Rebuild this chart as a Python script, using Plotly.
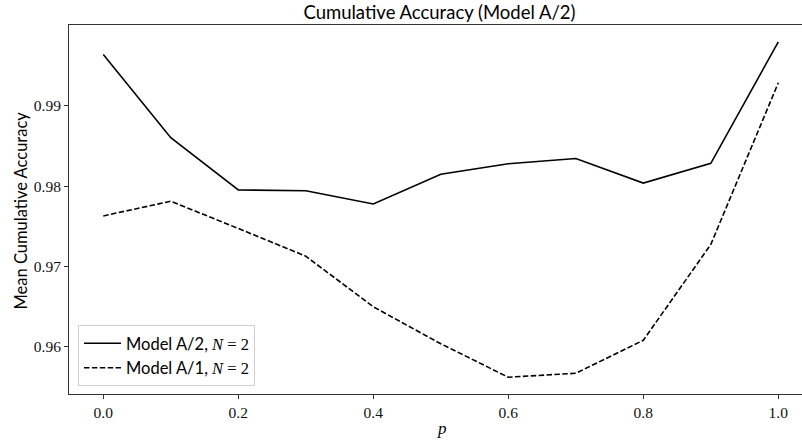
import plotly.graph_objects as go

p_values = [0.0, 0.1, 0.2, 0.3, 0.4, 0.5, 0.6, 0.7, 0.8, 0.9, 1.0]
acc_model_a2 = [0.99640, 0.98605, 0.97955, 0.97945, 0.97780, 0.98150, 0.98280, 0.98345, 0.98040, 0.98285, 0.99798]
acc_model_a1 = [0.97631, 0.97814, 0.97475, 0.97130, 0.96500, 0.96040, 0.95624, 0.95673, 0.96083, 0.97276, 0.99288]

x_ticks = [0.0, 0.2, 0.4, 0.6, 0.8, 1.0]
x_tick_labels = ["0.0", "0.2", "0.4", "0.6", "0.8", "1.0"]
y_ticks = [0.96, 0.97, 0.98, 0.99]
y_tick_labels = ["0.96", "0.97", "0.98", "0.99"]

serif = "Liberation Serif"
sans = "Lato"

W, H = 802, 443
L, R, T, B = 69, 0, 25, 49
PW, PH = W - L - R, H - T - B

def legend_label(model):
    return f"{model}, <span style='font-family:{serif}'><i>N</i> = 2</span>"

fig = go.Figure()
fig.add_trace(go.Scatter(
    x=p_values, y=acc_model_a2, mode="lines",
    line=dict(color="black", width=1.6),
    name=legend_label("Model A/2"),
))
fig.add_trace(go.Scatter(
    x=p_values, y=acc_model_a1, mode="lines",
    line=dict(color="black", width=1.6, dash="5.5px,2.4px"),
    name=legend_label("Model A/1"),
))

fig.update_layout(
    width=W, height=H,
    margin=dict(l=L, r=R, t=T, b=B, autoexpand=False),
    paper_bgcolor="white", plot_bgcolor="white",
    font=dict(family=sans, color="black", size=14),
    title=dict(text="Cumulative Accuracy (Model A/2)", x=(439.5 - L) / PW, xref="paper",
               xanchor="center", y=1 - 13 / H, yanchor="middle",
               font=dict(family=sans, size=18.5, color="black")),
    showlegend=True,
    legend=dict(x=(78 - L) / PW, y=(394 - 386) / PH, xanchor="left", yanchor="bottom",
                bgcolor="rgba(255,255,255,0.8)", bordercolor="#d0d0d0", borderwidth=1,
                font=dict(family=sans, size=16.5, color="black"),
                tracegroupgap=0, itemwidth=37),
    xaxis=dict(range=[-0.0508, 1.0351], tickvals=x_ticks, ticktext=x_tick_labels,
               automargin=False,
               showgrid=False, zeroline=False, showline=True, linecolor="#333",
               linewidth=1, mirror=True, ticks="outside", ticklen=4, tickcolor="#333",
               tickfont=dict(family=serif, size=15.5, color="#111")),
    yaxis=dict(range=[0.95415, 1.00007], tickvals=y_ticks, ticktext=y_tick_labels,
               automargin=False,
               showgrid=False, zeroline=False, showline=True, linecolor="#333",
               linewidth=1, mirror=False, ticks="outside", ticklen=4, tickcolor="#333",
               tickfont=dict(family=serif, size=15.5, color="#111")),
    annotations=[
        dict(text="<i>p</i>", xref="paper", yref="paper", x=(442 - L) / PW,
             y=-(428 - (H - B)) / PH, xanchor="center", yanchor="middle",
             showarrow=False, font=dict(family=serif, size=17, color="black")),
        dict(text="Mean Cumulative Accuracy", xref="paper", yref="paper",
             x=-(L - 20) / PW, y=1 - (210.5 - T) / PH, xanchor="center", yanchor="middle",
             textangle=-90, showarrow=False, font=dict(family=sans, size=16.5, color="black")),
    ],
)

fig.write_html("out.html", config={"displayModeBar": False},
               post_script="document.body.style.margin='0';document.body.style.overflow='hidden';")
